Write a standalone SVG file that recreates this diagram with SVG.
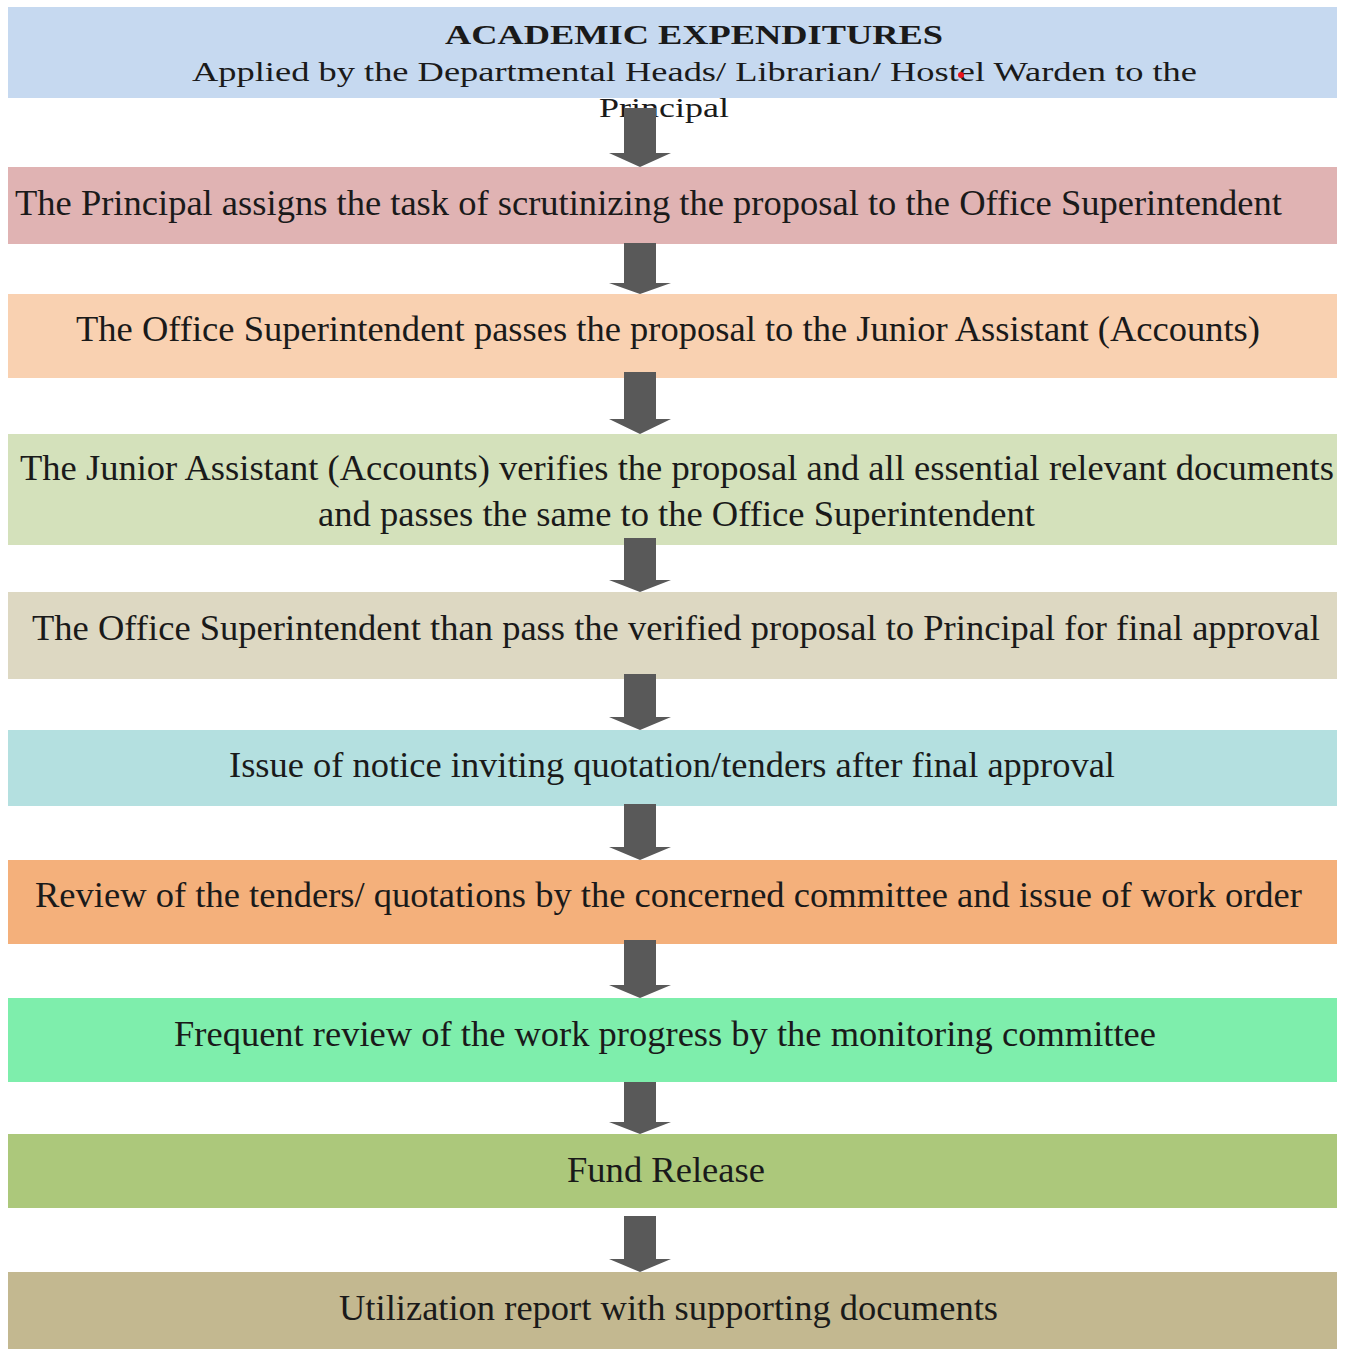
<svg xmlns="http://www.w3.org/2000/svg" width="1347" height="1349" viewBox="0 0 1347 1349">
<style>
text { font-family: "Liberation Serif", "Times New Roman", serif; fill: #1a1a1a; }
.t { font-size: 36px; }
.h { font-size: 28px; }
.hb { font-size: 28px; font-weight: bold; }
.arrow { fill: #595959; }
</style>
<rect width="1347" height="1349" fill="#ffffff"/>
<g id="node-header">
<rect x="8" y="7" width="1329" height="91" fill="#c6d9f0"/>
<text class="hb" x="445" y="44" textLength="498" lengthAdjust="spacingAndGlyphs">ACADEMIC EXPENDITURES</text>
<text class="h" x="192" y="81" textLength="1005" lengthAdjust="spacingAndGlyphs">Applied by the Departmental Heads/ Librarian/ Hostel Warden to the</text>
<text class="h" x="599" y="117" textLength="130" lengthAdjust="spacingAndGlyphs">Principal</text>
<circle cx="961" cy="75" r="3" fill="#e8141c"/>
</g>
<g id="node-assign">
<rect x="8" y="167" width="1329" height="77" fill="#e0b3b3"/>
<text class="t" x="15" y="215" textLength="1267" lengthAdjust="spacingAndGlyphs">The Principal assigns the task of scrutinizing the proposal to the Office Superintendent</text>
</g>
<g id="node-pass">
<rect x="8" y="294" width="1329" height="84" fill="#f9d1b1"/>
<text class="t" x="76" y="341" textLength="1184" lengthAdjust="spacingAndGlyphs">The Office Superintendent passes the proposal to the Junior Assistant (Accounts)</text>
</g>
<g id="node-verify">
<rect x="8" y="434" width="1329" height="111" fill="#d4e1bb"/>
<text class="t" x="20" y="480" textLength="1314" lengthAdjust="spacingAndGlyphs">The Junior Assistant (Accounts) verifies the proposal and all essential relevant documents</text>
<text class="t" x="318" y="526" textLength="717" lengthAdjust="spacingAndGlyphs">and passes the same to the Office Superintendent</text>
</g>
<g id="node-final">
<rect x="8" y="592" width="1329" height="87" fill="#ddd8c2"/>
<text class="t" x="32" y="640" textLength="1288" lengthAdjust="spacingAndGlyphs">The Office Superintendent than pass the verified proposal to Principal for final approval</text>
</g>
<g id="node-notice">
<rect x="8" y="730" width="1329" height="76" fill="#b4e0e0"/>
<text class="t" x="229" y="777" textLength="886" lengthAdjust="spacingAndGlyphs">Issue of notice inviting quotation/tenders after final approval</text>
</g>
<g id="node-review">
<rect x="8" y="860" width="1329" height="84" fill="#f4b07b"/>
<text class="t" x="35" y="907" textLength="1267" lengthAdjust="spacingAndGlyphs">Review of the tenders/ quotations by the concerned committee and issue of work order</text>
</g>
<g id="node-monitor">
<rect x="8" y="998" width="1329" height="84" fill="#7eeeac"/>
<text class="t" x="174" y="1046" textLength="982" lengthAdjust="spacingAndGlyphs">Frequent review of the work progress by the monitoring committee</text>
</g>
<g id="node-fund">
<rect x="8" y="1134" width="1329" height="74" fill="#acc87b"/>
<text class="t" x="567" y="1182" textLength="198" lengthAdjust="spacingAndGlyphs">Fund Release</text>
</g>
<g id="node-report">
<rect x="8" y="1272" width="1329" height="77" fill="#c3b890"/>
<text class="t" x="339" y="1320" textLength="659" lengthAdjust="spacingAndGlyphs">Utilization report with supporting documents</text>
</g>
<g id="connectors">
<polygon class="arrow" points="624,108 656,108 656,153 671,153 640,167 609,153 624,153"/>
<polygon class="arrow" points="624,243 656,243 656,283 671,283 640,294 609,283 624,283"/>
<polygon class="arrow" points="624,372 656,372 656,419 671,419 640,434 609,419 624,419"/>
<polygon class="arrow" points="624,538 656,538 656,580 671,580 640,592 609,580 624,580"/>
<polygon class="arrow" points="624,674 656,674 656,717 671,717 640,730 609,717 624,717"/>
<polygon class="arrow" points="624,804 656,804 656,847 671,847 640,860 609,847 624,847"/>
<polygon class="arrow" points="624,940 656,940 656,985 671,985 640,998 609,985 624,985"/>
<polygon class="arrow" points="624,1082 656,1082 656,1122 671,1122 640,1134 609,1122 624,1122"/>
<polygon class="arrow" points="624,1216 656,1216 656,1259 671,1259 640,1272 609,1259 624,1259"/>
</g>
</svg>
